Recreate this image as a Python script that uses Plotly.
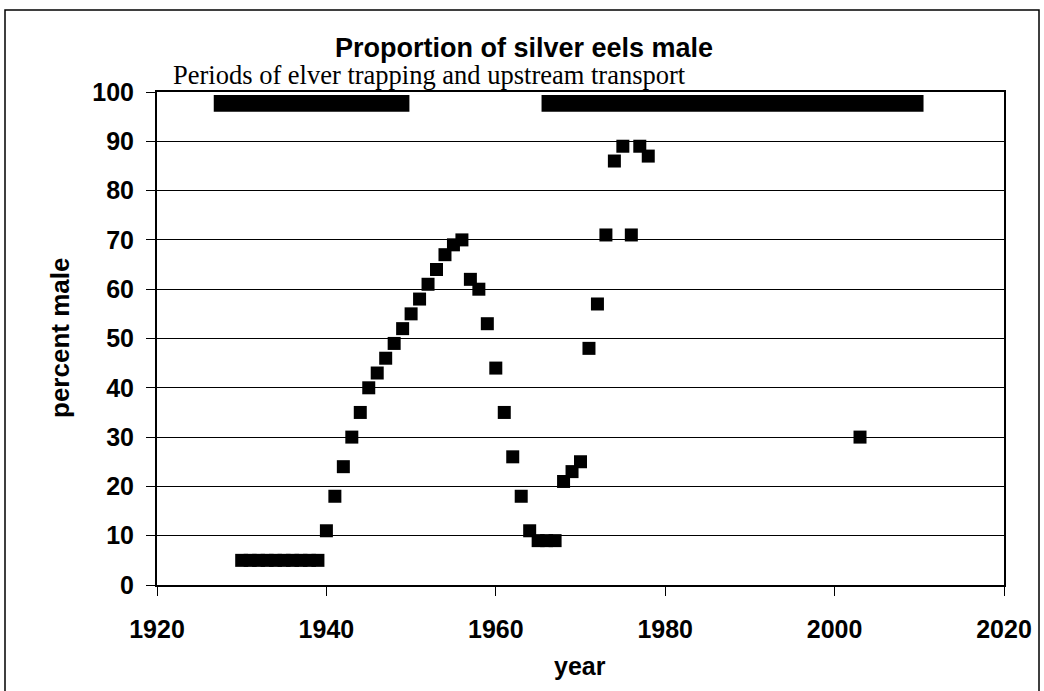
import plotly.graph_objects as go

# ---- data ----
years = [1930, 1931, 1932, 1933, 1934, 1935, 1936, 1937, 1938, 1939,
         1940, 1941, 1942, 1943, 1944, 1945, 1946, 1947, 1948, 1949,
         1950, 1951, 1952, 1953, 1954, 1955, 1956, 1957, 1958, 1959,
         1960, 1961, 1962, 1963, 1964, 1965, 1966, 1967, 1968, 1969,
         1970, 1971, 1972, 1973, 1974, 1975, 1976, 1977, 1978, 2003]
percent_male = [5, 5, 5, 5, 5, 5, 5, 5, 5, 5,
                11, 18, 24, 30, 35, 40, 43, 46, 49, 52,
                55, 58, 61, 64, 67, 69, 70, 62, 60, 53,
                44, 35, 26, 18, 11, 9, 9, 9, 21, 23,
                25, 48, 57, 71, 86, 89, 71, 89, 87, 30]

# periods of elver trapping and upstream transport
period_start = [1926.7, 1965.4]
period_end = [1949.8, 2010.5]
period_low = 96.0
period_high = 99.4

x_ticks = [1920, 1940, 1960, 1980, 2000, 2020]
y_ticks = [0, 10, 20, 30, 40, 50, 60, 70, 80, 90, 100]

title_text = "Proportion of silver eels male"
subtitle_text = "Periods of elver trapping and upstream transport"
x_title = "year"
y_title = "percent male"

# ---- figure ----
fig = go.Figure()
fig.add_trace(go.Scatter(
    x=years, y=percent_male, mode="markers",
    marker=dict(symbol="square", size=13, color="black",
                line=dict(width=0)),
    showlegend=False, cliponaxis=False, hoverinfo="x+y",
))

shapes = []
for s, e in zip(period_start, period_end):
    shapes.append(dict(type="rect", xref="x", yref="y", x0=s, x1=e,
                       y0=period_low, y1=period_high,
                       fillcolor="black", line=dict(width=0), layer="above"))

W, H = 1044, 691
L, T = 157, 92
R = W - 1004
B = H - 585
pw, ph = W - L - R, H - T - B


def px(x):
    return (x - L) / pw


def py(y):
    return (H - B - y) / ph


# outer frame
shapes.append(dict(type="rect", xref="paper", yref="paper",
                   x0=px(5), x1=px(1039), y0=py(730), y1=py(10),
                   line=dict(color="black", width=1.5), fillcolor="rgba(0,0,0,0)"))

ann = [
    dict(text="<b>" + title_text + "</b>", x=px(524), y=py(48), xref="paper", yref="paper",
         xanchor="center", yanchor="middle", showarrow=False,
         font=dict(family="Liberation Sans, Arial", size=27, color="black")),
    dict(text=subtitle_text, x=px(171), y=py(75), xref="paper", yref="paper",
         xanchor="left", yanchor="middle", showarrow=False,
         font=dict(family="Liberation Serif, Times New Roman", size=26.5, color="black")),
    dict(text="<b>" + y_title + "</b>", x=px(60), y=py(338), xref="paper", yref="paper",
         xanchor="center", yanchor="middle", showarrow=False, textangle=-90,
         font=dict(family="Liberation Sans, Arial", size=26, color="black")),
    dict(text="<b>" + x_title + "</b>", x=px(580), y=py(666), xref="paper", yref="paper",
         xanchor="center", yanchor="middle", showarrow=False,
         font=dict(family="Liberation Sans, Arial", size=25, color="black")),
]

tickfont = dict(family="Liberation Sans, Arial", size=25, color="black", weight="bold")

fig.update_layout(
    width=W, height=H,
    margin=dict(l=L, r=R, t=T, b=B, pad=0),
    paper_bgcolor="white", plot_bgcolor="white",
    shapes=shapes, annotations=ann,
    xaxis=dict(range=[1920, 2020], tickvals=x_ticks, ticks="outside", ticklen=9,
               tickcolor="black", tickwidth=1, showgrid=False, zeroline=False,
               showline=True, linecolor="black", linewidth=2, mirror=True,
               tickfont=tickfont, ticklabelstandoff=12),
    yaxis=dict(range=[0, 100], tickvals=y_ticks, ticks="outside", ticklen=9,
               tickcolor="black", tickwidth=1, showgrid=True, gridcolor="black",
               gridwidth=1, zeroline=False,
               showline=True, linecolor="black", linewidth=2, mirror=True,
               tickfont=tickfont, ticklabelstandoff=7),
)

fig.write_html("out.html", config={"displayModeBar": False},
               post_script="document.body.style.margin='0';document.body.style.overflow='hidden';")
